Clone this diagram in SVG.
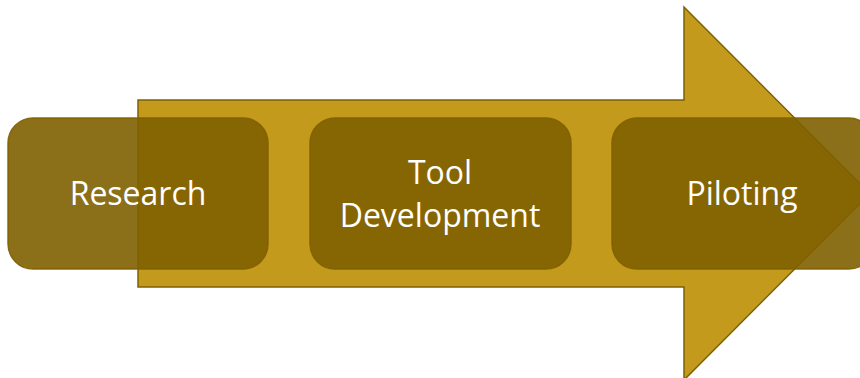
<svg xmlns="http://www.w3.org/2000/svg" width="860" height="378" viewBox="0 0 860 378">
<style>
.box{fill:#7F6000;fill-opacity:0.9;stroke:#7F6000;stroke-opacity:0.9;stroke-width:1.5}
.lbl{font-family:"Open Sans","Liberation Sans",sans-serif;font-size:32px;fill:#FFFFFF;text-anchor:middle}
</style>
<rect width="860" height="378" fill="#FFFFFF"/>
<g id="arrow">
<path d="M138,100 H684 V7 L870,193.5 L684,380 V287 H138 Z" fill="#C49A1C" stroke="#7F6000" stroke-width="1.5"/>
</g>
<g id="research">
<rect class="box" x="8" y="118" width="260" height="151" rx="25"/>
<text class="lbl" x="138" y="205">Research</text>
</g>
<g id="tool">
<rect class="box" x="310" y="118" width="261" height="151" rx="25"/>
<text class="lbl" x="440" y="184">Tool</text>
<text class="lbl" x="440" y="227">Development</text>
</g>
<g id="piloting">
<rect class="box" x="612" y="118" width="262" height="151" rx="25"/>
<text class="lbl" x="742" y="205">Piloting</text>
</g>
</svg>
